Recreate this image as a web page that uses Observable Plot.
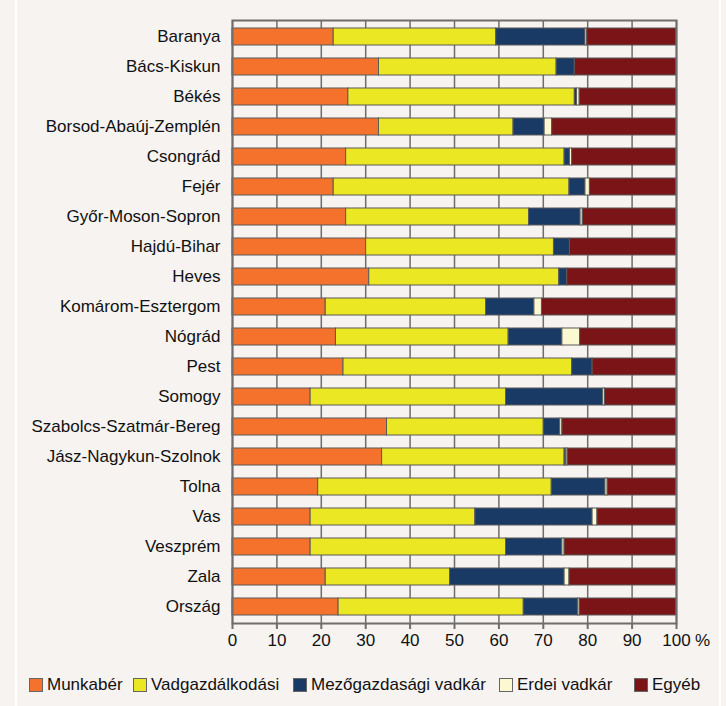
<!DOCTYPE html>
<html>
<head>
<meta charset="utf-8">
<script src="https://cdn.jsdelivr.net/npm/d3@7"></script>
<script src="https://cdn.jsdelivr.net/npm/@observablehq/plot@0.6"></script>
<style>
  html, body { margin: 0; padding: 0; background: #f6f3f0; }
  #wrap { position: relative; width: 726px; height: 706px; overflow: hidden; background: #f6f3f0;
          font-family: "Liberation Sans", Arial, sans-serif; }
  .vline { position: absolute; top: 0; width: 2px; height: 706px; background: #ffffff; }
  #chart { position: absolute; left: 0; top: 0; width: 726px; height: 660px; }
  #chart svg { display: block; }
  .leg { position: absolute; top: 675px; display: flex; align-items: center; font-size: 17px; color: #111; }
  .sw { width: 12px; height: 12px; border: 1px solid #666; margin-right: 4px; }
</style>
</head>
<body>
<div id="wrap">
  <div class="vline" style="left:15px"></div>
  <div class="vline" style="left:719px"></div>
  <div id="chart"></div>
  <div id="legend"></div>
</div>
<script>
const categories = ["Baranya","Bács-Kiskun","Békés","Borsod-Abaúj-Zemplén","Csongrád","Fejér","Győr-Moson-Sopron","Hajdú-Bihar","Heves","Komárom-Esztergom","Nógrád","Pest","Somogy","Szabolcs-Szatmár-Bereg","Jász-Nagykun-Szolnok","Tolna","Vas","Veszprém","Zala","Ország"];
const seriesNames = ["Munkabér","Vadgazdálkodási","Mezőgazdasági vadkár","Erdei vadkár","Egyéb"];
const seriesColors = ["#f4722b","#ece723","#1a3a66","#fbf8d2","#7a1416"];
const munkaber      = [22.8,33.0,26.1,33.0,25.6,22.8,25.6,30.1,30.8,21.0,23.3,25.0,17.6,34.8,33.7,19.3,17.6,17.6,21.0,23.9];
const vadgazd       = [36.6,40.0,51.0,30.3,49.2,53.1,41.2,42.3,42.8,36.1,38.9,51.5,44.0,35.3,41.1,52.6,37.1,44.0,28.0,41.7];
const mezogazd      = [20.1,4.1,0.5,7.0,1.2,3.6,11.6,3.6,1.8,10.9,12.1,4.6,21.9,3.7,0.4,12.1,26.4,12.7,25.8,12.2];
const erdei         = [0.4,0.0,0.6,1.7,0.5,1.0,0.5,0.0,0.0,1.7,4.0,0.0,0.4,0.5,0.3,0.5,1.1,0.5,1.1,0.4];
const egyeb         = [20.1,22.9,21.8,28.0,23.5,19.5,21.1,24.0,24.6,30.3,21.7,18.9,16.1,25.7,24.5,15.5,17.8,25.2,24.1,21.8];
const xTicks = [0,10,20,30,40,50,60,70,80,90,100];

const seriesValues = [munkaber, vadgazd, mezogazd, erdei, egyeb];
const data = [];
categories.forEach((c, i) => {
  seriesNames.forEach((s, j) => {
    data.push({ category: c, series: s, value: seriesValues[j][i] });
  });
});

const plot = Plot.plot({
  width: 726,
  height: 660,
  marginLeft: 232,
  marginRight: 50,
  marginTop: 20,
  marginBottom: 37,
  style: { background: "transparent", fontFamily: "Liberation Sans, Arial, sans-serif", fontSize: "17px", color: "#111" },
  x: { domain: [0, 100] },
  y: { domain: categories, paddingInner: 0.42, paddingOuter: 0.21, axis: null },
  color: { domain: seriesNames, range: seriesColors },
  marks: [
    Plot.ruleX(xTicks, { stroke: "#6e6e6e", strokeWidth: 1.5 }),
    Plot.barX(data, Plot.stackX({
      x: "value", y: "category", fill: "series", order: seriesNames,
      stroke: "#5a5a5a", strokeWidth: 1
    })),
    Plot.frame({ stroke: "#6e6e6e", strokeWidth: 2 }),
    Plot.axisY({ tickSize: 0, tickPadding: 12, fontSize: 17, fill: "#111", label: null }),
    Plot.axisX({ ticks: xTicks, tickSize: 6, tickPadding: 4, stroke: "#6e6e6e", strokeWidth: 2, fontSize: 17, fill: "#111", label: null }),
    Plot.axisX({ ticks: [100], tickFormat: () => "%", tickSize: 0, tickPadding: 10, dx: 26, fontSize: 17, fill: "#111", label: null })
  ]
});
document.getElementById("chart").appendChild(plot);

const legendLefts = [29, 133, 293, 499, 634];
const legend = document.getElementById("legend");
seriesNames.forEach((s, j) => {
  const item = document.createElement("div");
  item.className = "leg";
  item.style.left = legendLefts[j] + "px";
  const sw = document.createElement("div");
  sw.className = "sw";
  sw.style.background = seriesColors[j];
  item.appendChild(sw);
  const t = document.createElement("span");
  t.textContent = s;
  item.appendChild(t);
  legend.appendChild(item);
});
</script>
</body>
</html>
